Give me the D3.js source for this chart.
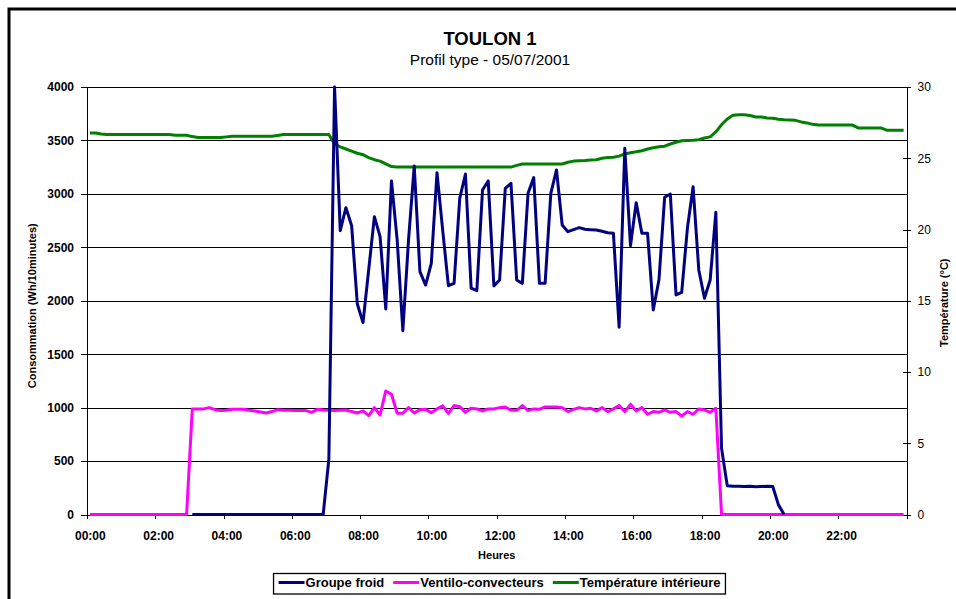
<!DOCTYPE html>
<html>
<head>
<meta charset="utf-8">
<script src="https://cdn.jsdelivr.net/npm/d3@7"></script>
<style>
  body { margin: 0; background: #fff; }
  svg { display: block; font-family: Arial, "Liberation Sans", sans-serif; }
</style>
</head>
<body>
<div id="chart"></div>
<script>
// Tick labels (every 2 hours = 12 steps of 10 minutes)
const hourLabels = ['00:00', '02:00', '04:00', '06:00', '08:00', '10:00',
  '12:00', '14:00', '16:00', '18:00', '20:00', '22:00'];
const leftTicks = [0, 500, 1000, 1500, 2000, 2500, 3000, 3500, 4000];
const rightTicks = [0, 5, 10, 15, 20, 25, 30];

// Groupe froid (Wh/10min), one value per 10 minutes, null = no data
const groupeFroid = [
  null, null, null, null, null, null, null, null, null, null, null, null,
  null, null, null, null, null, null,
  0, 0, 0, 0, 0, 0, 0, 0, 0, 0, 0, 0, 0, 0, 0, 0, 0, 0, 0, 0, 0, 0, 0, 0,
  519, 4000, 2656, 2871, 2702, 1970, 1795, 2290, 2787, 2600,
  1923, 3121, 2569, 1720, 2569, 3261, 2272, 2147, 2350, 3198,
  2660, 2141, 2163, 2959, 3186, 2117, 2094, 3036, 3121, 2138,
  2194, 3052, 3099, 2194, 2163, 3005, 3152, 2163, 2163, 3005,
  3224, 2709, 2646, 2665, 2684, 2669, 2665, 2662, 2650, 2637,
  2631, 1752, 3427, 2515, 2918, 2631, 2631, 1914, 2194, 2968,
  2999, 2054, 2079, 2678, 3067, 2288, 2023, 2194, 2828, 620,
  270, 265, 265, 262, 265, 260, 262, 265, 262, 90,
  0,
  null, null, null, null, null, null, null, null, null, null, null,
  null, null, null, null, null, null, null, null, null, null
];

// Ventilo-convecteurs (Wh/10min)
const ventilo = [
  0, 0, 0, 0, 0, 0, 0, 0, 0, 0, 0, 0, 0, 0, 0, 0, 0, 0,
  988, 988, 988, 1000, 981, 972, 975, 984, 984, 984,
  975, 969, 959, 950, 963, 981, 975, 975, 972, 972,
  972, 956, 984, 978, 975, 972, 975, 978, 963, 950,
  969, 925, 1000, 931, 1156, 1125, 947, 947, 1000, 950,
  981, 984, 953, 988, 1016, 946, 1019, 1009, 956, 994,
  988, 969, 988, 988, 1000, 1006, 975, 975, 1019, 972,
  988, 984, 1006, 1006, 1006, 1000, 963, 984, 1000, 988,
  994, 969, 1000, 963, 988, 1019, 963, 1031, 969, 1000,
  938, 963, 956, 978, 956, 963, 922, 963, 938, 988,
  978, 956, 994,
  0, 0, 0, 0, 0, 0, 0, 0, 0, 0, 0, 0, 0, 0, 0, 0, 0,
  0, 0, 0, 0, 0, 0, 0, 0, 0, 0, 0, 0, 0, 0, 0, 0
];

// Température intérieure (°C), right axis
const tempInt = [
  26.77, 26.77, 26.7, 26.66, 26.66, 26.66, 26.66, 26.66, 26.66, 26.66,
  26.66, 26.66, 26.66, 26.66, 26.66, 26.61, 26.61, 26.61, 26.52, 26.45,
  26.45, 26.45, 26.45, 26.45, 26.5, 26.54, 26.54, 26.54, 26.54, 26.54,
  26.54, 26.54, 26.54, 26.6, 26.66, 26.66, 26.66, 26.66, 26.66, 26.66,
  26.66, 26.66, 26.66, 26.0, 25.8, 25.65, 25.5, 25.35, 25.25, 25.05,
  24.9, 24.8, 24.6, 24.42, 24.38, 24.38, 24.38, 24.38, 24.38, 24.38,
  24.38, 24.38, 24.38, 24.38, 24.38, 24.38, 24.38, 24.38, 24.38, 24.38,
  24.38, 24.38, 24.38, 24.38, 24.38, 24.5, 24.6, 24.6, 24.6, 24.6,
  24.6, 24.6, 24.6, 24.6, 24.72, 24.8, 24.83, 24.85, 24.88, 24.9,
  25.0, 25.05, 25.07, 25.15, 25.3, 25.38, 25.45, 25.53, 25.65, 25.74,
  25.8, 25.85, 26.0, 26.12, 26.23, 26.25, 26.26, 26.3, 26.42, 26.5,
  26.85, 27.35, 27.75, 28.02, 28.06, 28.05, 28.0, 27.9, 27.9, 27.82,
  27.8, 27.73, 27.7, 27.68, 27.66, 27.55, 27.48, 27.38, 27.33, 27.33,
  27.33, 27.33, 27.33, 27.33, 27.33, 27.13, 27.13, 27.13, 27.13, 27.13,
  26.97, 26.97, 26.97, 26.97
];

const seriesNames = ['Groupe froid', 'Ventilo-convecteurs', 'Température intérieure'];
const seriesColors = ['#000080', '#ff00ff', '#008000'];

const W = 956;
const H = 599;
const margin = { t: 87, r: 49.5, b: 84.5, l: 87 };
const plotW = W - margin.l - margin.r;
const plotH = H - margin.t - margin.b;
const nSteps = 144;

const svg = d3.select('#chart')
  .append('svg')
  .attr('width', W)
  .attr('height', H);

// outer chart border (runs off the right and bottom of the picture)
svg.append('path')
  .attr('d', `M9,${H + 10}V9H${W + 10}`)
  .attr('fill', 'none')
  .attr('stroke', '#000')
  .attr('stroke-width', 3);

// titles
svg.append('text')
  .attr('x', 490).attr('y', 45)
  .attr('text-anchor', 'middle')
  .style('font-size', '18.5px').style('font-weight', 'bold')
  .text('TOULON 1');
svg.append('text')
  .attr('x', 490).attr('y', 65)
  .attr('text-anchor', 'middle')
  .style('font-size', '15.5px')
  .text('Profil type - 05/07/2001');

const g = svg.append('g').attr('transform', `translate(${margin.l}, ${margin.t})`);

// Scales
const x = d3.scaleLinear().domain([0, nSteps]).range([0, plotW]);
const y = d3.scaleLinear().domain([0, 4000]).range([plotH, 0]);
const y2 = d3.scaleLinear().domain([0, 30]).range([plotH, 0]);

// Grid
g.append('g')
  .attr('class', 'grid')
  .call(d3.axisLeft(y).tickValues(leftTicks.slice(1)).tickSize(-plotW).tickFormat(''))
  .call(s => s.select('.domain').remove())
  .call(s => s.selectAll('line').attr('stroke', '#000').attr('shape-rendering', 'crispEdges'));

// Axes
const xAxis = d3.axisBottom(x)
  .tickValues(d3.range(0, nSteps + 1, 12))
  .tickSize(4)
  .tickPadding(13)
  .tickFormat((d, i) => hourLabels[i] || '');

g.append('g')
  .attr('class', 'axis axis--x')
  .attr('transform', `translate(0, ${plotH})`)
  .call(xAxis)
  .call(s => s.selectAll('text').attr('x', x(0.5) - x(0)));

g.append('g')
  .attr('class', 'axis axis--y')
  .call(d3.axisLeft(y).tickValues(leftTicks).tickSize(6).tickPadding(7).tickFormat(d3.format('d')));

const rightAxis = g.append('g')
  .attr('class', 'axis axis--y2')
  .attr('transform', `translate(${plotW}, 0)`)
  .call(d3.axisRight(y2).tickValues(rightTicks).tickSize(4).tickPadding(7));
rightAxis.selectAll('.tick line').attr('x1', -4);

g.selectAll('.axis path, .axis line')
  .attr('stroke', '#000')
  .attr('shape-rendering', 'crispEdges');
g.selectAll('.axis text').attr('fill', '#000');
g.selectAll('.axis--x text, .axis--y text')
  .style('font-size', '12px').style('font-weight', 'bold');
rightAxis.selectAll('text').style('font-size', '12px');

// Axis titles
svg.append('text')
  .attr('transform', `translate(32, ${margin.t + plotH / 2 + 5}) rotate(-90)`)
  .attr('text-anchor', 'middle')
  .attr('dy', '0.35em')
  .style('font-size', '11px').style('font-weight', 'bold')
  .text('Consommation (Wh/10minutes)');

svg.append('text')
  .attr('transform', `translate(944, ${margin.t + plotH / 2 + 2}) rotate(-90)`)
  .attr('text-anchor', 'middle')
  .attr('dy', '0.35em')
  .style('font-size', '11px').style('font-weight', 'bold')
  .text('Température (°C)');

svg.append('text')
  .attr('x', margin.l + plotW / 2).attr('y', 559)
  .attr('text-anchor', 'middle')
  .style('font-size', '11px').style('font-weight', 'bold')
  .text('Heures');

// Line generators
const lineLeft = d3.line()
  .defined(d => d !== null)
  .x((d, i) => x(i + 0.5))
  .y(d => y(d));

const lineRight = d3.line()
  .x((d, i) => x(i + 0.5))
  .y(d => y2(d));

const lines = g.append('g').attr('class', 'lines');

lines.append('path')
  .datum(tempInt)
  .attr('fill', 'none')
  .attr('stroke', seriesColors[2])
  .attr('stroke-width', 3)
  .attr('stroke-linejoin', 'round')
  .attr('d', lineRight);

lines.append('path')
  .datum(ventilo)
  .attr('fill', 'none')
  .attr('stroke', seriesColors[1])
  .attr('stroke-width', 3)
  .attr('stroke-linejoin', 'round')
  .attr('d', lineLeft);

lines.append('path')
  .datum(groupeFroid)
  .attr('fill', 'none')
  .attr('stroke', seriesColors[0])
  .attr('stroke-width', 3)
  .attr('stroke-linejoin', 'round')
  .attr('d', lineLeft);

// Legend
const legend = svg.append('g').attr('class', 'legend');
const legendBox = legend.append('rect')
  .attr('fill', '#fff')
  .attr('stroke', '#000')
  .attr('stroke-width', 1.3);

let cx = 0;
seriesNames.forEach((name, i) => {
  legend.append('line')
    .attr('x1', cx).attr('x2', cx + 26)
    .attr('y1', 582.5).attr('y2', 582.5)
    .attr('stroke', seriesColors[i])
    .attr('stroke-width', 3);
  const t = legend.append('text')
    .attr('x', cx + 27).attr('y', 587)
    .style('font-size', '13px').style('font-weight', 'bold')
    .text(name);
  cx += 27 + t.node().getComputedTextLength() + (i < seriesNames.length - 1 ? 9 : 0);
});

const legendW = cx + 10;
const legendX = 499.5 - legendW / 2;
legendBox
  .attr('x', -5).attr('y', 573.5)
  .attr('width', legendW).attr('height', 20.5);
legend.attr('transform', `translate(${legendX + 5}, 0)`);
</script>
</body>
</html>
